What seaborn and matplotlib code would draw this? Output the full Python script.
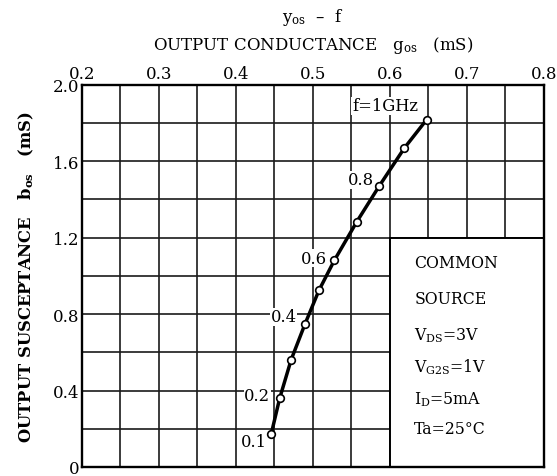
import numpy as np
import pandas as pd
import matplotlib
matplotlib.use("Agg")
import matplotlib.pyplot as plt
from matplotlib.patches import Rectangle
import seaborn as sns

# data (mS), frequency 0.1 .. 1.0 GHz
freq = [0.1, 0.2, 0.3, 0.4, 0.5, 0.6, 0.7, 0.8, 0.9, 1.0]
g_os = [0.446, 0.457, 0.472, 0.490, 0.508, 0.528, 0.557, 0.586, 0.619, 0.648]
b_os = [0.172, 0.359, 0.562, 0.749, 0.924, 1.081, 1.282, 1.468, 1.669, 1.818]

freq_labels = ["0.1", "0.2", "0.4", "0.6", "0.8", "f=1GHz"]
label_pos = [(0.423, 0.133), (0.428, 0.373), (0.462, 0.786),
             (0.501, 1.092), (0.562, 1.503), (0.594, 1.89)]

x_ticks = [0.2, 0.3, 0.4, 0.5, 0.6, 0.7, 0.8]
y_ticks = [0, 0.4, 0.8, 1.2, 1.6, 2.0]
y_tick_labels = ["0", "0.4", "0.8", "1.2", "1.6", "2.0"]

conditions = ["COMMON", "SOURCE", r"$\mathrm{V_{DS}}$=3V",
              r"$\mathrm{V_{G2S}}$=1V", r"$\mathrm{I_D}$=5mA", "Ta=25°C"]
cond_y = [1.07, 0.88, 0.69, 0.53, 0.36, 0.2]

df = pd.DataFrame({"f": freq, "g": g_os, "b": b_os})

sns.set_theme(style="white")
plt.rcParams["font.family"] = ["DejaVu Serif"]
plt.rcParams["mathtext.fontset"] = "dejavuserif"
for key in ["text.color", "axes.labelcolor", "xtick.color", "ytick.color"]:
    plt.rcParams[key] = "black"

fig = plt.figure(figsize=(5.57, 4.77), dpi=100)
ax = fig.add_axes([0.147, 0.019, 0.829, 0.801])

ax.set_xlim(0.2, 0.8)
ax.set_ylim(0, 2.0)

# grid
for gx in np.arange(0.25, 0.8, 0.05):
    ax.axvline(gx, color="#1a1a1a", lw=1.2, zorder=1)
for gy in np.arange(0.2, 2.0, 0.2):
    ax.axhline(gy, color="#1a1a1a", lw=1.2, zorder=1)

# condition box hides the grid
ax.add_patch(Rectangle((0.6, 0), 0.2, 1.2, facecolor="white",
                       edgecolor="black", lw=1.4, zorder=2))
for txt, ty in zip(conditions, cond_y):
    ax.text(0.632, ty, txt, fontsize=11.3, va="center", ha="left", zorder=3)

sns.lineplot(data=df, x="g", y="b", ax=ax, color="black", lw=2.5,
             marker="o", markersize=5.5, markerfacecolor="white",
             markeredgecolor="black", markeredgewidth=1.2, zorder=5,
             sort=False)

for lab, (lx, ly) in zip(freq_labels, label_pos):
    ax.text(lx, ly, lab, fontsize=11.8, ha="center", va="center", zorder=4,
            bbox=dict(facecolor="white", edgecolor="none", pad=0.5))

ax.xaxis.tick_top()
ax.set_xticks(x_ticks)
ax.set_xticklabels([f"{v:.1f}" for v in x_ticks], fontsize=12)
ax.set_yticks(y_ticks)
ax.set_yticklabels(y_tick_labels, fontsize=12)
ax.tick_params(length=0, pad=2)

ax.set_xlabel("")
ax.set_ylabel(r"OUTPUT SUSCEPTANCE   $\mathbf{b_{os}}$   (mS)",
              fontsize=11.8, fontweight="bold", labelpad=12)

for s in ax.spines.values():
    s.set_color("black")
    s.set_linewidth(1.7)
    s.set_zorder(6)

fig.text(0.5617, 0.963, r"$\mathrm{y_{os}}$  –  f", fontsize=12, ha="center", va="center")
fig.text(0.5617, 0.905, r"OUTPUT CONDUCTANCE   $\mathrm{g_{os}}$   (mS)",
         fontsize=12, ha="center", va="center")

fig.savefig("out.png", dpi=100)
